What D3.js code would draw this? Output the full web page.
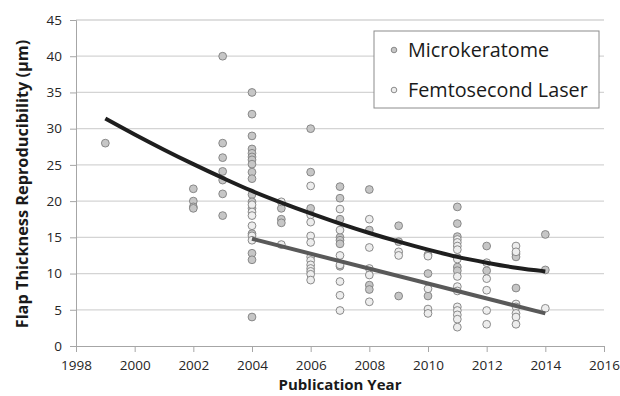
<!DOCTYPE html>
<html>
<head>
<meta charset="utf-8">
<script src="https://cdn.jsdelivr.net/npm/d3@7"></script>
<style>
  body { margin: 0; background: #fff; }
</style>
</head>
<body>
<svg id="chart" width="620" height="396"></svg>
<script>
// microkeratome points [year, value]
const microPoints = [
  [1999, 28],
  [2002, 21.7], [2002, 20.0], [2002, 19.2], [2002, 19.0],
  [2003, 40], [2003, 28], [2003, 26], [2003, 24.1], [2003, 22.9], [2003, 21], [2003, 18],
  [2004, 35], [2004, 32], [2004, 29], [2004, 27.2], [2004, 26.6], [2004, 26.1], [2004, 25.7],
  [2004, 25.1], [2004, 24.0], [2004, 23.1], [2004, 20.9], [2004, 19.9], [2004, 19.0],
  [2004, 15.5], [2004, 12.8], [2004, 11.9], [2004, 4.0],
  [2005, 19.0], [2005, 17.5], [2005, 17.0],
  [2006, 30], [2006, 24], [2006, 19.0],
  [2007, 22.0], [2007, 20.4], [2007, 17.5], [2007, 15.0], [2007, 14.6], [2007, 14.1], [2007, 11.0],
  [2008, 21.6], [2008, 16.0], [2008, 8.4], [2008, 7.8],
  [2009, 16.6], [2009, 14.4], [2009, 6.9],
  [2010, 12.6], [2010, 10.0], [2010, 6.9],
  [2011, 19.2], [2011, 16.9], [2011, 15.1], [2011, 12.2], [2011, 10.9], [2011, 10.4],
  [2012, 13.8], [2012, 10.4],
  [2013, 12.7], [2013, 12.3], [2013, 8.0],
  [2014, 15.4], [2014, 10.5]
];

// femtosecond laser points [year, value]
const femtoPoints = [
  [2004, 19.5], [2004, 18.5], [2004, 18.0], [2004, 16.6], [2004, 15.2], [2004, 14.6],
  [2005, 19.9], [2005, 14.0],
  [2006, 22.1], [2006, 18.1], [2006, 17.1], [2006, 15.2], [2006, 14.3], [2006, 12.3],
  [2006, 11.8], [2006, 11.2], [2006, 10.7], [2006, 10.3], [2006, 9.9], [2006, 9.1],
  [2007, 18.9], [2007, 16.0], [2007, 12.5], [2007, 11.2], [2007, 8.9], [2007, 7.0], [2007, 4.9],
  [2008, 17.5], [2008, 13.6], [2008, 10.7], [2008, 9.8], [2008, 6.1],
  [2009, 13.0], [2009, 12.5],
  [2010, 12.4], [2010, 7.9], [2010, 5.1], [2010, 4.5],
  [2011, 14.7], [2011, 14.3], [2011, 13.8], [2011, 13.3], [2011, 12.0], [2011, 9.6],
  [2011, 8.2], [2011, 7.6], [2011, 5.4], [2011, 4.9], [2011, 4.3], [2011, 3.7], [2011, 2.6],
  [2012, 11.5], [2012, 9.3], [2012, 7.7], [2012, 4.9], [2012, 3.0],
  [2013, 13.8], [2013, 13.0], [2013, 5.8], [2013, 5.4], [2013, 4.5], [2013, 4.0], [2013, 3.0],
  [2014, 5.2]
];

// trendlines
const microTrend = [
  [1999, 31.4], [2000, 29.2], [2001, 27.1], [2002, 25.1], [2003, 23.2], [2004, 21.4],
  [2005, 19.8], [2006, 18.3], [2007, 16.9], [2008, 15.6], [2009, 14.4], [2010, 13.3],
  [2011, 12.3], [2012, 11.5], [2013, 10.8], [2014, 10.3]
];
const femtoTrend = [[2004, 14.8], [2014, 4.5]];

const xTicks = [1998, 2000, 2002, 2004, 2006, 2008, 2010, 2012, 2014, 2016];
const yTicks = [0, 5, 10, 15, 20, 25, 30, 35, 40, 45];
const seriesNames = ["Microkeratome", "Femtosecond Laser"];

const svg = d3.select("#chart");
const width = +svg.attr("width");
const height = +svg.attr("height");
const margin = { top: 20, left: 76, right: 16, bottom: 50 };
const innerWidth = width - margin.left - margin.right;
const innerHeight = height - margin.top - margin.bottom;

const fontFamily = "'Open Sans', sans-serif";
const microFill = "#c6c6c6";
const femtoFill = "#ededed";

const xScale = d3.scaleLinear().domain([1998, 2016]).range([0, innerWidth]);
const yScale = d3.scaleLinear().domain([0, 45]).range([innerHeight, 0]);

const g = svg.append("g").attr("transform", `translate(${margin.left},${margin.top})`);

// gridlines
g.append("g")
  .selectAll("line")
  .data(yTicks.filter((d) => d > 0))
  .enter()
  .append("line")
  .attr("x1", 0)
  .attr("x2", innerWidth)
  .attr("y1", (d) => yScale(d))
  .attr("y2", (d) => yScale(d))
  .attr("stroke", "#d4d4d4")
  .attr("stroke-width", 1.3);

// y axis
const yAxisG = g.append("g")
  .attr("font-family", fontFamily)
  .call(d3.axisLeft(yScale).tickValues(yTicks).tickSize(6).tickPadding(8));
yAxisG.select(".domain").attr("stroke", "#a6a6a6");
yAxisG.selectAll(".tick line").attr("stroke", "#a6a6a6");
yAxisG.selectAll(".tick text")
  .attr("font-family", fontFamily)
  .attr("font-size", 13.5)
  .attr("fill", "#262626");

// x axis
const xAxisG = g.append("g")
  .attr("font-family", fontFamily)
  .attr("transform", `translate(0,${innerHeight})`)
  .call(d3.axisBottom(xScale).tickValues(xTicks).tickFormat(d3.format("d")).tickSize(6).tickPadding(8));
xAxisG.select(".domain").attr("stroke", "#a6a6a6");
xAxisG.selectAll(".tick line").attr("stroke", "#a6a6a6");
xAxisG.selectAll(".tick text")
  .attr("font-family", fontFamily)
  .attr("font-size", 13.5)
  .attr("fill", "#262626");

// points
const drawPoints = (data, fill) => {
  g.append("g")
    .selectAll("circle")
    .data(data)
    .enter()
    .append("circle")
    .attr("cx", (d) => xScale(d[0]))
    .attr("cy", (d) => yScale(d[1]))
    .attr("r", 3.9)
    .attr("fill", fill)
    .attr("stroke", "#7f7f7f")
    .attr("stroke-width", 0.9);
};
drawPoints(microPoints, microFill);
drawPoints(femtoPoints, femtoFill);

// trendlines
const lineGen = d3.line()
  .x((d) => xScale(d[0]))
  .y((d) => yScale(d[1]))
  .curve(d3.curveMonotoneX);

g.append("path")
  .attr("d", lineGen(femtoTrend))
  .attr("fill", "none")
  .attr("stroke", "#595959")
  .attr("stroke-width", 4);

g.append("path")
  .attr("d", lineGen(microTrend))
  .attr("fill", "none")
  .attr("stroke", "#1e1e1e")
  .attr("stroke-width", 4);

// axis titles
svg.append("text")
  .text("Publication Year")
  .attr("x", margin.left + innerWidth / 2)
  .attr("y", 389.5)
  .attr("text-anchor", "middle")
  .attr("font-family", fontFamily)
  .attr("font-weight", "bold")
  .attr("font-size", 15)
  .attr("fill", "#1a1a1a");

svg.append("text")
  .text("Flap Thickness Reproducibility (µm)")
  .attr("transform", `translate(27.5,${margin.top + innerHeight / 2 + 1}) rotate(-90)`)
  .attr("text-anchor", "middle")
  .attr("font-family", fontFamily)
  .attr("font-weight", "bold")
  .attr("font-size", 16.3)
  .attr("fill", "#1a1a1a");

// legend
const legend = svg.append("g").attr("transform", "translate(374,31)");
legend.append("rect")
  .attr("width", 225)
  .attr("height", 77)
  .attr("fill", "#fff")
  .attr("stroke", "#8c8c8c")
  .attr("stroke-width", 1);

const legendItems = legend.selectAll(".item")
  .data(seriesNames)
  .enter()
  .append("g")
  .attr("class", "item")
  .attr("transform", (d, i) => `translate(0,${19 + i * 40})`);

legendItems.append("circle")
  .attr("cx", 20)
  .attr("cy", 0)
  .attr("r", 2.8)
  .attr("fill", (d, i) => (i === 0 ? microFill : femtoFill))
  .attr("stroke", "#7f7f7f")
  .attr("stroke-width", 0.9);

legendItems.append("text")
  .text((d) => d)
  .attr("x", 34)
  .attr("y", 7)
  .attr("font-family", fontFamily)
  .attr("font-size", 19.8)
  .attr("fill", "#1a1a1a");
</script>
</body>
</html>
